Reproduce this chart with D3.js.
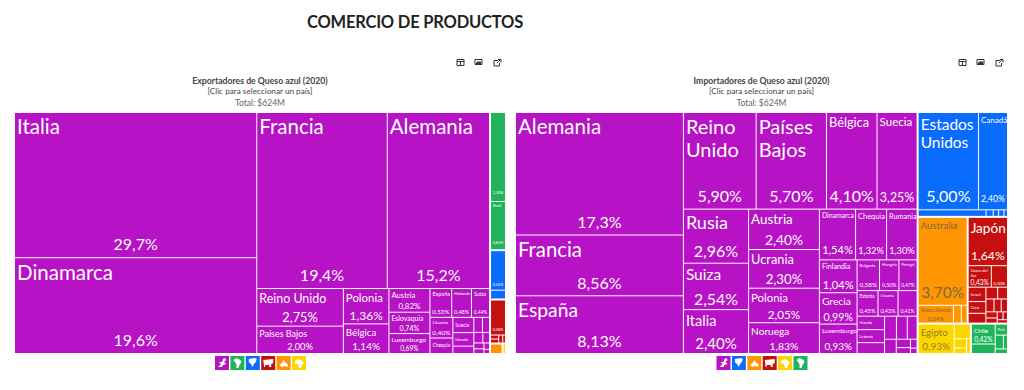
<!DOCTYPE html>
<html>
<head>
<meta charset="utf-8">
<script src="https://cdn.jsdelivr.net/npm/d3@7"></script>
<style>
  html, body { margin: 0; padding: 0; background: #fff; }
  svg { display: block; font-family: Lato, sans-serif; }
</style>
</head>
<body>
<svg id="chart" width="1024" height="390"></svg>
<script>
const continents = ["Europa", "Sudamerica", "Norteamerica", "Asia", "Oceania", "Africa"]

const exportCountries = ["Italia", "Dinamarca", "Francia", "Alemania", "Reino Unido", "Países Bajos", "Polonia", "Bélgica", "Austria", "Eslovaquia", "Luxemburgo", "España", "Holanda", "Suiza", "Lituania", "Chequia", "Suecia", "Irlanda", "Grecia", "Rumania", "Hungría", "Bulgaria", "Portugal", "Croacia", "Estonia", "Letonia", "Malta", "Argentina", "Brasil", "Estados Unidos", "Canadá", "Armenia", "Japón", "Corea", "China", "Georgia", "Australia", "Sudáfrica"]
const exportValues = [29.7, 19.6, 19.4, 15.2, 2.75, 2.00, 1.36, 1.14, 0.82, 0.74, 0.69, 0.53, 0.48, 0.44, 0.40, 0.30, 0.27, 0.24, 0.13, 0.11, 0.09, 0.08, 0.06, 0.05, 0.04, 0.03, 0.02, 1.20, 0.65, 0.54, 0.12, 0.48, 0.03, 0.03, 0.03, 0.02, 0.11, 0.03]
const exportGroups = [0, 0, 0, 0, 0, 0, 0, 0, 0, 0, 0, 0, 0, 0, 0, 0, 0, 0, 0, 0, 0, 0, 0, 0, 0, 0, 0, 1, 1, 2, 2, 3, 3, 3, 3, 3, 4, 5]

const importCountries = ["Alemania", "Francia", "España", "Reino Unido", "Países Bajos", "Bélgica", "Suecia", "Rusia", "Suiza", "Italia", "Austria", "Ucrania", "Polonia", "Noruega", "Dinamarca", "Chequia", "Rumania", "Finlandia", "Grecia", "Luxemburgo", "Bulgaria", "Hungría", "Portugal", "Estonia", "Lituania", "Eslovaquia", "Irlanda", "Letonia", "Croacia", "Eslovenia", "Chipre", "Serbia", "Malta", "Albania", "Islandia", "Bosnia", "Montenegro", "Estados Unidos", "Canadá", "México", "Panamá", "Costa Rica", "Guatemala", "Honduras", "Australia", "Nueva Zelanda", "Fiyi", "Polinesia", "Japón", "Corea del Sur", "Israel", "Catar", "Arabia Saudita", "Hong Kong", "Singapur", "China", "Tailandia", "Emiratos", "Líbano", "Kuwait", "Omán", "Baréin", "Jordania", "Malasia", "Egipto", "Marruecos", "Sudáfrica", "Túnez", "Argelia", "Chile", "Brasil", "Perú", "Colombia", "Ecuador", "Uruguay"]
const importValues = [17.26, 8.56, 8.13, 5.90, 5.70, 4.10, 3.25, 2.96, 2.54, 2.40, 2.40, 2.30, 2.05, 1.83, 1.54, 1.32, 1.30, 1.04, 0.99, 0.93, 0.58, 0.50, 0.47, 0.45, 0.43, 0.41, 0.31, 0.30, 0.25, 0.23, 0.21, 0.19, 0.14, 0.10, 0.07, 0.05, 0.03, 5.00, 2.40, 0.38, 0.04, 0.03, 0.03, 0.02, 3.70, 0.54, 0.12, 0.09, 1.64, 0.43, 0.22, 0.18, 0.30, 0.15, 0.12, 0.10, 0.09, 0.08, 0.07, 0.06, 0.05, 0.04, 0.03, 0.03, 0.93, 0.21, 0.10, 0.06, 0.05, 0.42, 0.20, 0.12, 0.10, 0.05, 0.05]
const importGroups = [0, 0, 0, 0, 0, 0, 0, 0, 0, 0, 0, 0, 0, 0, 0, 0, 0, 0, 0, 0, 0, 0, 0, 0, 0, 0, 0, 0, 0, 0, 0, 0, 0, 0, 0, 0, 0, 2, 2, 2, 2, 2, 2, 2, 4, 4, 4, 4, 3, 3, 3, 3, 3, 3, 3, 3, 3, 3, 3, 3, 3, 3, 3, 3, 5, 5, 5, 5, 5, 1, 1, 1, 1, 1, 1]

const exportLegend = [0, 1, 2, 3, 4, 5]
const importLegend = [0, 2, 4, 3, 5, 1]

const color = d3.scaleOrdinal().domain(d3.range(6))
  .range(["#b712c5", "#1fb45a", "#0a6cff", "#c60f0f", "#ff9500", "#ffd500"])
const labelColor = d3.scaleOrdinal().domain(d3.range(6))
  .range(["#fff", "#fff", "#fff", "#fff", "#806a3c", "#8f8420"])

const commaLocale = d3.formatLocale({ decimal: ",", thousands: ".", grouping: [3], currency: ["$", ""] })
const fmtBig = commaLocale.format(".3r")
const fmtSmall = commaLocale.format(".2f")
const share = (v) => (v >= 1 ? fmtBig(v) : fmtSmall(v)) + "%"

// very rough continent silhouettes for the little buttons, in a 14x14 box
const icons = [
  "M3 11L6 8L4 6L7 6L8 3L10 2L11 4L9 6L11 8L8 9L7 11Z",
  "M3 4L6 2L10 4L11 6L9 9L8 12L6 12L6 8Z",
  "M3 3L9 2L11 3L10 6L8 8L7 11L5 8L3 6Z",
  "M2 4L12 3L12 7L10 8L10 11L8 11L8 9L4 9L4 11L3 11Z",
  "M3 9L6 6L7 4L8 6L11 8L11 11L8 10L5 11Z",
  "M3 5L6 3L9 4L12 7L10 9L9 12L7 12L6 8L3 8Z"
]

const svg = d3.select("#chart")

svg.append("text")
  .attr("x", 415).attr("y", 28)
  .attr("text-anchor", "middle")
  .attr("font-size", 16.5).attr("letter-spacing", -0.2).attr("font-weight", 700).attr("fill", "#222")
  .text("COMERCIO DE PRODUCTOS")

function drawToolbar(x) {
  const g = svg.append("g").attr("fill", "none").attr("stroke", "#333")
  g.append("path").attr("d", `M${x-4} 59.5h7v6h-7zM${x-4} 61.5h7M${x-0.5} 61.5v4`)
  const h = x + 18
  g.append("path").attr("d", `M${h-4} 59.5h7v5h-7z`)
  g.append("path").attr("d", `M${h-3} 63.5l2-2l1 1l1-1l1 2z`).attr("fill", "#333")
  const e = x + 36
  g.append("path").attr("d", `M${e+1} 60.5h-4v5.500h5.500v-3M${e} 63l3.500-3.500M${e+1} 59.500h3v3`)
}

function drawTreemap(opts) {
  const { countries, values, groups, legend, title, left, right } = opts
  const top = 113, bottom = 353
  const mid = (left + right) / 2

  svg.append("text").attr("x", mid).attr("y", 84).attr("text-anchor", "middle")
    .attr("font-size", 8.7).attr("font-weight", 700).attr("fill", "#444").text(title)
  svg.append("text").attr("x", mid).attr("y", 94).attr("text-anchor", "middle")
    .attr("font-size", 8.2).attr("fill", "#444").text("[Clic para seleccionar un país]")
  svg.append("text").attr("x", mid).attr("y", 106).attr("text-anchor", "middle")
    .attr("font-size", 8.5).attr("fill", "#666").text("Total: $624M")

  const rows = countries.map((name, i) => ({ name, value: values[i], group: groups[i] }))
  const nested = {
    children: d3.groups(rows, (d) => d.group).map(([group, items]) => ({ group, children: items }))
  }
  const root = d3.hierarchy(nested).sum((d) => d.value || 0)
    .sort((a, b) => b.value - a.value)

  d3.treemap()
    .size([right - left, bottom - top])
    .tile(d3.treemapSquarify)
    .paddingInner((d) => d.depth === 0 ? 2 : 1)(root)

  const cells = svg.append("g").attr("transform", `translate(${left},${top})`)
    .selectAll("g").data(root.leaves()).join("g")
    .attr("transform", (d) => `translate(${d.x0},${d.y0})`)

  cells.append("rect")
    .attr("width", (d) => d.x1 - d.x0)
    .attr("height", (d) => d.y1 - d.y0)
    .attr("fill", (d) => color(d.data.group))

  cells.each(function (d) {
    const w = d.x1 - d.x0, h = d.y1 - d.y0
    if (w < 11 || h < 6) return
    const g = d3.select(this)
    const fill = labelColor(d.data.group)
    const name = d.data.name
    const words = name.split(" ")
    const fit = (chars) => (w - 3) / (chars * 0.52)
    let lines = [name]
    if (words.length > 1 && h > w * 0.8) {
      lines = [words.slice(0, -1).join(" "), words[words.length - 1]]
    }
    const longest = d3.max(lines, (s) => s.length)
    const lineCap = lines.length > 1 ? 20 : Math.min(20.5, h * 0.34)
    const size = Math.min(lineCap, fit(longest))
    const nameOnly = h < 16

    if (size >= 3.4) {
      g.selectAll("text.name").data(lines).join("text").attr("class", "name")
        .attr("x", 2)
        .attr("y", (s, i) => nameOnly ? h / 2 + size * 0.35 : 2 + size * 0.95 + i * size * 1.15)
        .attr("font-size", Math.max(size, 3.5)).attr("fill", fill)
        .text((s) => s)
    }
    if (nameOnly) return
    const pct = Math.min(16, (w - 3) / 2.9, Math.max(h * 0.35, 3.5))
    g.append("text")
      .attr("x", w / 2).attr("y", h - Math.max(2, Math.min(7, h * 0.1)))
      .attr("text-anchor", "middle")
      .attr("font-size", pct).attr("fill", fill)
      .text(share(d.data.value))
  })

  legend.forEach((group, i) => {
    const b = svg.append("g").attr("transform", `translate(${mid - 45 + i * 15.4},356)`)
    b.append("rect").attr("width", 14).attr("height", 14).attr("fill", color(group))
    b.append("path").attr("d", icons[group]).attr("fill", "#fff")
  })
}

drawToolbar(461)
drawToolbar(963)

drawTreemap({
  countries: exportCountries, values: exportValues, groups: exportGroups,
  legend: exportLegend, title: "Exportadores de Queso azul (2020)", left: 15, right: 505
})
drawTreemap({
  countries: importCountries, values: importValues, groups: importGroups,
  legend: importLegend, title: "Importadores de Queso azul (2020)", left: 516, right: 1007
})
</script>
</body>
</html>
